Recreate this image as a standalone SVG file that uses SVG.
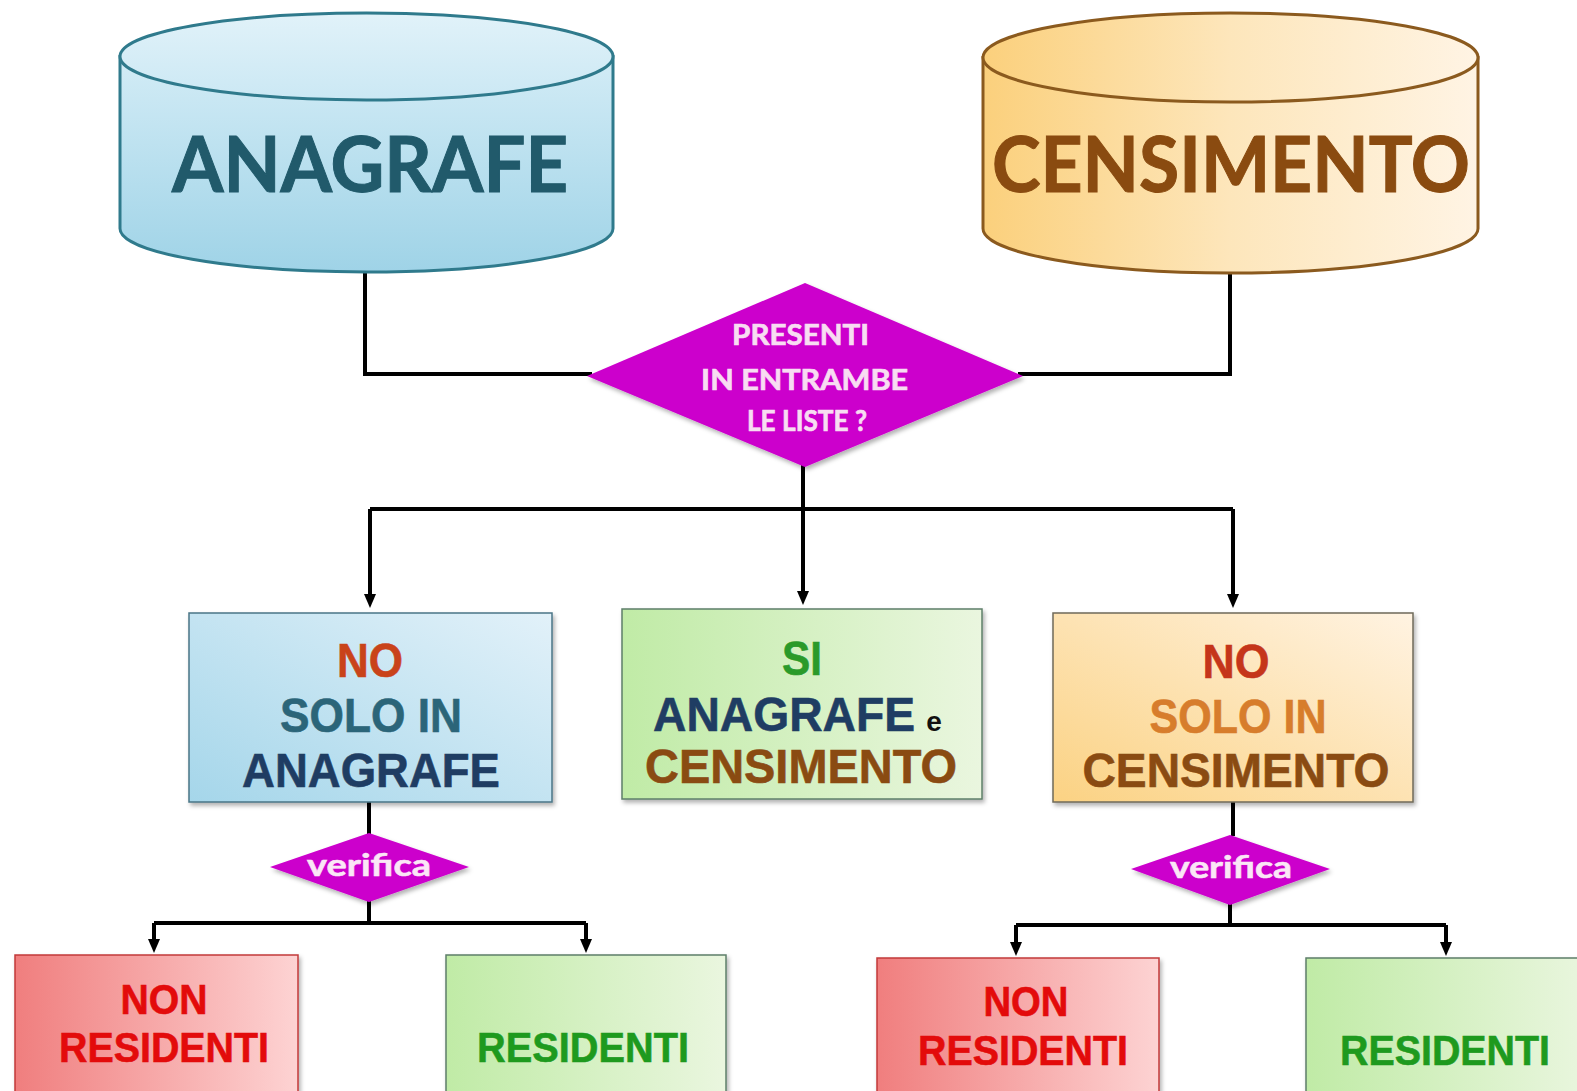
<svg xmlns="http://www.w3.org/2000/svg" width="1577" height="1091" viewBox="0 0 1577 1091">
<style>
.cal{font-family:Lato,"Open Sans","Liberation Sans",sans-serif;font-weight:bold}
.ari{font-family:"Liberation Sans",Arial,sans-serif;font-weight:bold;stroke-width:0.6}
.conn{fill:none;stroke:#000;stroke-width:4}
.box{stroke-width:1.5}
</style>
<defs>
<linearGradient id="gAnaBody" x1="0" y1="0" x2="0" y2="1"><stop offset="0" stop-color="#d3ecf6"/><stop offset="1" stop-color="#9fd3e7"/></linearGradient>
<linearGradient id="gAnaTop" x1="0" y1="0" x2="0" y2="1"><stop offset="0" stop-color="#e1f2f9"/><stop offset="1" stop-color="#cbe8f4"/></linearGradient>
<linearGradient id="gCenBody" x1="0" y1="0" x2="1" y2="0"><stop offset="0" stop-color="#fbd07c"/><stop offset="0.5" stop-color="#fde6bb"/><stop offset="1" stop-color="#fff4e4"/></linearGradient>
<linearGradient id="gBlue" x1="0" y1="1" x2="1" y2="0"><stop offset="0" stop-color="#a5d6ea"/><stop offset="1" stop-color="#e2f1f9"/></linearGradient>
<linearGradient id="gGreen" x1="0" y1="0" x2="1" y2="0"><stop offset="0" stop-color="#c0eba6"/><stop offset="1" stop-color="#eaf6df"/></linearGradient>
<linearGradient id="gOrange" x1="0" y1="1" x2="1" y2="0"><stop offset="0" stop-color="#fbd283"/><stop offset="1" stop-color="#fff3e2"/></linearGradient>
<linearGradient id="gRed" x1="0" y1="0" x2="1" y2="0"><stop offset="0" stop-color="#f07e7e"/><stop offset="1" stop-color="#fdd3d3"/></linearGradient>
<filter id="sh" x="-10%" y="-10%" width="125%" height="130%"><feDropShadow dx="2" dy="3" stdDeviation="2" flood-color="#000" flood-opacity="0.3"/></filter>
<marker id="arr" viewBox="0 0 14 12" refX="2" refY="6" markerWidth="14" markerHeight="12" markerUnits="userSpaceOnUse" orient="auto"><path d="M0,0 L14,6 L0,12 Z" fill="#000"/></marker>
</defs>

<g id="connectors">
<path class="conn" d="M365,272 V374 H592"/>
<path class="conn" d="M1230,273 V374 H1018"/>
<path class="conn" d="M803,460 V509"/>
<path class="conn" d="M370,509 H1233"/>
<path class="conn" d="M370,509 V596" marker-end="url(#arr)"/>
<path class="conn" d="M803,509 V593" marker-end="url(#arr)"/>
<path class="conn" d="M1233,509 V596" marker-end="url(#arr)"/>
<path class="conn" d="M369,802 V836"/>
<path class="conn" d="M369,898 V923"/>
<path class="conn" d="M154,923 H586"/>
<path class="conn" d="M154,923 V941" marker-end="url(#arr)"/>
<path class="conn" d="M586,923 V941" marker-end="url(#arr)"/>
<path class="conn" d="M1233,802 V836"/>
<path class="conn" d="M1230,900 V925"/>
<path class="conn" d="M1016,925 H1446"/>
<path class="conn" d="M1016,925 V944" marker-end="url(#arr)"/>
<path class="conn" d="M1446,925 V944" marker-end="url(#arr)"/>
</g>

<g id="anagrafe">
<path d="M120,56.5 V228.5 A246.5,43.5 0 0 0 613,228.5 V56.5 Z" fill="url(#gAnaBody)" stroke="#2f7a8c" stroke-width="3"/>
<ellipse cx="366.5" cy="56.5" rx="246.5" ry="43.5" fill="url(#gAnaTop)" stroke="#2f7a8c" stroke-width="3"/>
<text class="cal" x="370" y="192" font-size="76" fill="#215a6b" stroke="#215a6b" stroke-width="1" text-anchor="middle" textLength="396" lengthAdjust="spacingAndGlyphs">ANAGRAFE</text>
</g>

<g id="censimento">
<path d="M983,57.5 V228.5 A247.5,44.5 0 0 0 1478,228.5 V57.5 Z" fill="url(#gCenBody)" stroke="#8b5a1e" stroke-width="3"/>
<ellipse cx="1230.5" cy="57.5" rx="247.5" ry="44.5" fill="url(#gCenBody)" stroke="#8b5a1e" stroke-width="3"/>
<text class="cal" x="1231" y="192" font-size="76" fill="#8a4b10" stroke="#8a4b10" stroke-width="1" text-anchor="middle" textLength="478" lengthAdjust="spacingAndGlyphs">CENSIMENTO</text>
</g>

<g id="decision">
<polygon points="805,283 1023,376 805,467 587,376" fill="#cc00cc" filter="url(#sh)"/>
<text class="cal" font-size="28" fill="#f8dcf2" stroke="#f8dcf2" stroke-width="0.7" text-anchor="middle">
<tspan x="804" y="345" textLength="137" lengthAdjust="spacingAndGlyphs">PRESENTI</tspan>
<tspan x="808" y="390" textLength="207" lengthAdjust="spacingAndGlyphs">IN ENTRAMBE</tspan>
<tspan x="807" y="431" textLength="120" lengthAdjust="spacingAndGlyphs">LE LISTE ?</tspan>
</text>
</g>

<g id="solo-anagrafe">
<rect class="box" x="189" y="613" width="363" height="189" fill="url(#gBlue)" stroke="#4a7586" filter="url(#sh)"/>
<text class="ari" x="370" y="677" font-size="48" fill="#c9431a" stroke="#c9431a" text-anchor="middle" textLength="66" lengthAdjust="spacingAndGlyphs">NO</text>
<text class="ari" x="371" y="732" font-size="48" fill="#2b6579" stroke="#2b6579" text-anchor="middle" textLength="182" lengthAdjust="spacingAndGlyphs">SOLO IN</text>
<text class="ari" x="371" y="787" font-size="48" fill="#1f3d63" stroke="#1f3d63" text-anchor="middle" textLength="258" lengthAdjust="spacingAndGlyphs">ANAGRAFE</text>
</g>

<g id="si-entrambe">
<rect class="box" x="622" y="609" width="360" height="190" fill="url(#gGreen)" stroke="#5e7f6a" filter="url(#sh)"/>
<text class="ari" x="802" y="675" font-size="48" fill="#2a9a2a" stroke="#2a9a2a" text-anchor="middle" textLength="40" lengthAdjust="spacingAndGlyphs">SI</text>
<text class="ari" x="784" y="731" font-size="48" fill="#1f3d63" stroke="#1f3d63" text-anchor="middle" textLength="262" lengthAdjust="spacingAndGlyphs">ANAGRAFE</text>
<text class="ari" x="934" y="731" font-size="28" fill="#111" text-anchor="middle">e</text>
<text class="ari" x="801" y="783" font-size="48" fill="#8a4b12" stroke="#8a4b12" text-anchor="middle" textLength="312" lengthAdjust="spacingAndGlyphs">CENSIMENTO</text>
</g>

<g id="solo-censimento">
<rect class="box" x="1053" y="613" width="360" height="189" fill="url(#gOrange)" stroke="#6f6a5a" filter="url(#sh)"/>
<text class="ari" x="1236" y="678" font-size="48" fill="#c5351a" stroke="#c5351a" text-anchor="middle" textLength="67" lengthAdjust="spacingAndGlyphs">NO</text>
<text class="ari" x="1238" y="733" font-size="48" fill="#d77d2c" stroke="#d77d2c" text-anchor="middle" textLength="177" lengthAdjust="spacingAndGlyphs">SOLO IN</text>
<text class="ari" x="1236" y="787" font-size="48" fill="#8a4b12" stroke="#8a4b12" text-anchor="middle" textLength="307" lengthAdjust="spacingAndGlyphs">CENSIMENTO</text>
</g>

<g id="verifica-1">
<polygon points="369,833 469,867 369,902 270,867" fill="#cc00cc" filter="url(#sh)"/>
<text class="cal" x="369" y="876" font-size="31" fill="#fbe6f6" stroke="#fbe6f6" stroke-width="0.6" text-anchor="middle" textLength="124" lengthAdjust="spacingAndGlyphs">verifica</text>
</g>

<g id="verifica-2">
<polygon points="1230,835 1330,869 1230,905 1131,869" fill="#cc00cc" filter="url(#sh)"/>
<text class="cal" x="1231" y="878" font-size="31" fill="#fbe6f6" stroke="#fbe6f6" stroke-width="0.6" text-anchor="middle" textLength="122" lengthAdjust="spacingAndGlyphs">verifica</text>
</g>

<g id="non-residenti-1">
<rect class="box" x="15" y="955" width="283" height="145" fill="url(#gRed)" stroke="#c23a3a" filter="url(#sh)"/>
<text class="ari" x="164" y="1014" font-size="42" fill="#e30b0b" stroke="#e30b0b" text-anchor="middle" textLength="87" lengthAdjust="spacingAndGlyphs">NON</text>
<text class="ari" x="164" y="1062" font-size="43" fill="#e30b0b" stroke="#e30b0b" text-anchor="middle" textLength="210" lengthAdjust="spacingAndGlyphs">RESIDENTI</text>
</g>

<g id="residenti-1">
<rect class="box" x="446" y="955" width="280" height="145" fill="url(#gGreen)" stroke="#5e7f6a" filter="url(#sh)"/>
<text class="ari" x="583" y="1062" font-size="43" fill="#1e9a1e" stroke="#1e9a1e" text-anchor="middle" textLength="212" lengthAdjust="spacingAndGlyphs">RESIDENTI</text>
</g>

<g id="non-residenti-2">
<rect class="box" x="877" y="958" width="282" height="145" fill="url(#gRed)" stroke="#c23a3a" filter="url(#sh)"/>
<text class="ari" x="1026" y="1016" font-size="42" fill="#e30b0b" stroke="#e30b0b" text-anchor="middle" textLength="85" lengthAdjust="spacingAndGlyphs">NON</text>
<text class="ari" x="1023" y="1065" font-size="43" fill="#e30b0b" stroke="#e30b0b" text-anchor="middle" textLength="210" lengthAdjust="spacingAndGlyphs">RESIDENTI</text>
</g>

<g id="residenti-2">
<rect class="box" x="1306" y="958" width="285" height="145" fill="url(#gGreen)" stroke="#5e7f6a" filter="url(#sh)"/>
<text class="ari" x="1445" y="1065" font-size="43" fill="#1e9a1e" stroke="#1e9a1e" text-anchor="middle" textLength="210" lengthAdjust="spacingAndGlyphs">RESIDENTI</text>
</g>
</svg>
